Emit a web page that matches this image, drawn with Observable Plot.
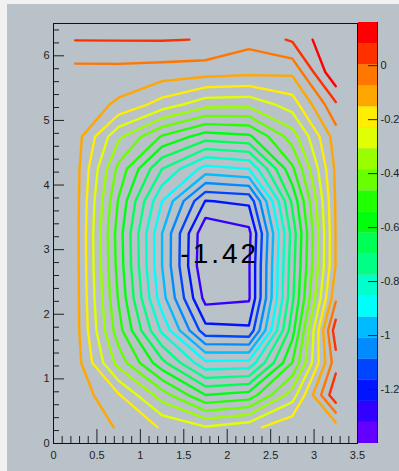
<!DOCTYPE html>
<html><head><meta charset="utf-8">
<script src="https://cdn.jsdelivr.net/npm/d3@7"></script>
<script src="https://cdn.jsdelivr.net/npm/@observablehq/plot@0.6"></script>
<style>
html,body{margin:0;padding:0;background:#f1f1f1;}
#wrap{position:relative;width:399px;height:471px;overflow:hidden;}
#bg{position:absolute;left:7px;top:4px;width:392px;height:467px;background:#b9c1c9;}
#main,#pal{position:absolute;top:0;}
#main{left:0;}
#pal{left:358px;}
svg{overflow:visible;}
</style></head><body>
<div id="wrap"><div id="bg"></div><div id="main"></div><div id="pal"></div></div>
<script>
// Bin centres of the histogram
const xCenters = [0.25, 0.75, 1.25, 1.75, 2.25, 2.75, 3.25];
const yCenters = [0.25, 0.75, 1.25, 1.75, 2.25, 2.75, 3.25, 3.75, 4.25, 4.75, 5.25, 5.75, 6.25];
// z values, one row per y bin centre, from y = 0.25 (bottom) to y = 6.25 (top)
const zRows = [
  [-0.090, -0.160, -0.238, -0.300, -0.256, -0.168, -0.191],
  [-0.100, -0.222, -0.425, -0.620, -0.589, -0.347,  0.066],
  [-0.110, -0.417, -0.675, -0.916, -0.909, -0.542, -0.027],
  [-0.115, -0.511, -0.870, -1.215, -1.228, -0.651,  0.051],
  [-0.115, -0.550, -0.979, -1.349, -1.332, -0.714, -0.090],
  [-0.115, -0.573, -1.010, -1.400, -1.330, -0.729, -0.148],
  [-0.115, -0.581, -1.010, -1.391, -1.345, -0.745, -0.148],
  [-0.115, -0.550, -0.932, -1.248, -1.228, -0.682, -0.144],
  [-0.115, -0.487, -0.776, -0.963, -0.932, -0.558, -0.136],
  [-0.112, -0.370, -0.550, -0.659, -0.636, -0.425, -0.113],
  [-0.100, -0.165, -0.261, -0.355, -0.363, -0.269, -0.007],
  [-0.102, -0.101, -0.109, -0.117, -0.129, -0.136,  0.152],
  [ 0.0063, 0.0071, 0.0079, 0.0017, -0.051, 0.014,  0.160]
];
const zMin = -1.40, zMax = 0.16, nLevels = 20;
const xTicks = [0, 0.5, 1, 1.5, 2, 2.5, 3, 3.5];
const yTicks = [0, 1, 2, 3, 4, 5, 6];
const paletteTicks = [0, -0.2, -0.4, -0.6, -0.8, -1, -1.2];
const minLabel = [{x: 1.46, y: 2.79, text: "-1.42"}];

// ROOT "pretty" palette: 50 HLS colours, 20 contour levels
function levelColor(k) {
  const idx = Math.floor((k + 0.99) * 50 / nLevels);
  const h = 280 - (idx + 1) * (280 / 50);
  return d3.hsl(h, 1, 0.5).formatHex();
}
const dz = (zMax - zMin) / nLevels;
const levels = d3.range(nLevels).map(k => zMin + k * dz);
const colors = levels.map((_, k) => levelColor(k));

// contour lines
const nx = xCenters.length, ny = yCenters.length;
const dxStep = xCenters[1] - xCenters[0], dyStep = yCenters[1] - yCenters[0];
const values = zRows.flat();
const gen = d3.contours().size([nx, ny]).smooth(true);
const segs = [];
let sid = 0;
const isB = p => p[0] <= 0 || p[0] >= nx || p[1] <= 0 || p[1] >= ny;
const toData = p => ({x: xCenters[0] + (p[0] - 0.5) * dxStep, y: yCenters[0] + (p[1] - 0.5) * dyStep});
levels.forEach((lv, k) => {
  if (k === 0) return;
  const mp = gen.contour(values, lv);
  for (const poly of mp.coordinates) for (const ring of poly) {
    const pts = ring.slice(0, -1);
    const start = pts.findIndex(isB);
    if (start < 0) {
      const id = sid++;
      [...pts, pts[0]].forEach(p => segs.push({...toData(p), id, k}));
      continue;
    }
    let cur = null;
    for (let i = 0; i <= pts.length; i++) {
      const p = pts[(start + i) % pts.length];
      if (isB(p)) { cur = null; continue; }
      if (cur === null) cur = sid++;
      segs.push({...toData(p), id: cur, k});
    }
  }
});

const W = 399, H = 471;
const mL = 53, mT = 23, mR = 42, mB = 28;
const frameW = W - mL - mR, frameH = H - mT - mB;
const xMinor = d3.range(1, 35).map(i => i / 10).filter(v => Math.abs(v * 2 - Math.round(v * 2)) > 1e-6);
const yMinor = d3.range(1, 33).map(i => i / 5).filter(v => Math.abs(v - Math.round(v)) > 1e-6);
const fmt = d => String(+d.toFixed(2));

const main = Plot.plot({
  width: W, height: H,
  marginLeft: mL, marginTop: mT, marginRight: mR, marginBottom: mB,
  style: {background: "transparent", fontFamily: "'Liberation Sans', Arial, sans-serif", fontSize: "11px", color: "#222"},
  x: {domain: [0, 3.5]},
  y: {domain: [0, 6.5]},
  marks: [
    Plot.line(segs, {x: "x", y: "y", z: "id", stroke: d => colors[d.k], strokeWidth: 2.4, strokeLinejoin: "round", strokeLinecap: "round"}),
    Plot.tickX(xMinor, {x: d => d, insetTop: frameH - 7, stroke: "#222"}),
    Plot.tickX(xTicks, {x: d => d, insetTop: frameH - 14, stroke: "#222"}),
    Plot.tickY(yMinor, {y: d => d, insetRight: frameW - 6, stroke: "#222"}),
    Plot.tickY(yTicks, {y: d => d, insetRight: frameW - 11, stroke: "#222"}),
    Plot.axisX({ticks: xTicks, tickSize: 0, tickPadding: 8, tickFormat: fmt, label: null}),
    Plot.axisY({ticks: yTicks, tickSize: 0, tickPadding: 4, tickFormat: fmt, label: null}),
    Plot.frame({stroke: "#111"}),
    Plot.text(minLabel, {x: "x", y: "y", text: "text", textAnchor: "start", lineAnchor: "bottom", fontSize: 28, fill: "#000"})
  ]
});
main.querySelectorAll("text").forEach(t => { if (t.textContent === "-1.42") t.setAttribute("letter-spacing", "3"); });
document.getElementById("main").appendChild(main);

const bands = levels.map((lv, k) => ({lo: lv, hi: lv + dz, color: colors[k]}));
const pal = Plot.plot({
  width: 41, height: H,
  marginLeft: 0, marginRight: 22, marginTop: 22, marginBottom: 28,
  style: {background: "transparent", fontFamily: "'Liberation Sans', Arial, sans-serif", fontSize: "11px", color: "#222"},
  x: {domain: [0, 1], axis: null},
  y: {domain: [zMin, zMax]},
  marks: [
    Plot.rect(bands, {x1: 0, x2: 1, y1: "lo", y2: "hi", fill: "color"}),
    Plot.tickY(paletteTicks, {y: d => d, insetLeft: 10, stroke: "#222"}),
    Plot.axisY({anchor: "right", ticks: paletteTicks, tickSize: 0, tickPadding: 3, tickFormat: fmt, label: null}),
    Plot.ruleX([1], {stroke: "#222"})
  ]
});
document.getElementById("pal").appendChild(pal);
</script>
</body></html>
